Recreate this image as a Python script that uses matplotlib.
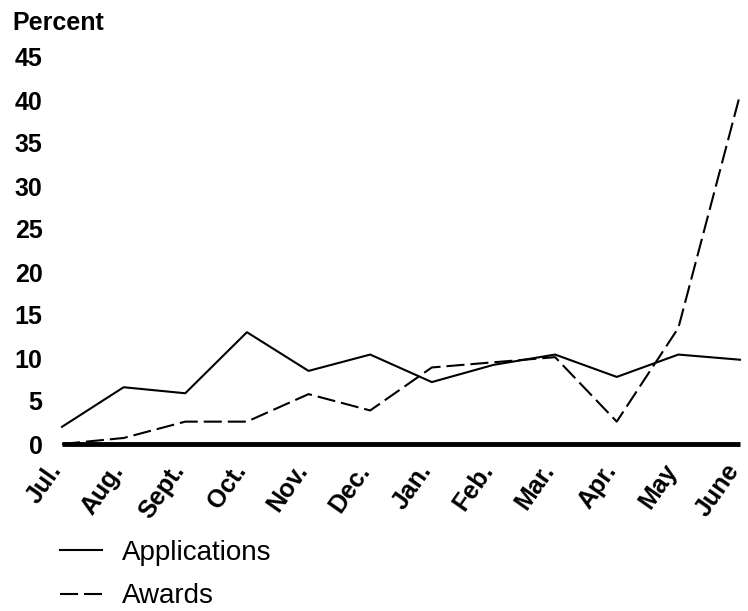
import matplotlib
matplotlib.use("Agg")
import matplotlib.pyplot as plt
from matplotlib.lines import Line2D
from matplotlib.transforms import ScaledTranslation

months = ["Jul.", "Aug.", "Sept.", "Oct.", "Nov.", "Dec.",
          "Jan.", "Feb.", "Mar.", "Apr.", "May", "June"]
applications = [2.0, 6.6, 5.9, 13.0, 8.5, 10.4, 7.2, 9.2, 10.4, 7.8, 10.4, 9.8]
awards = [0.0, 0.7, 2.6, 2.6, 5.8, 3.9, 8.9, 9.5, 10.1, 2.6, 13.5, 40.6]
y_ticks = [0, 5, 10, 15, 20, 25, 30, 35, 40, 45]

plt.rcParams['lines.scale_dashes'] = False
font = ['Liberation Sans', 'DejaVu Sans']
dash = (13, 4.3)

fig = plt.figure(figsize=(7.48, 6.11), dpi=100)
ax = fig.add_axes([62 / 748, 1 - 444 / 611, (740 - 62) / 748, (444 - 57) / 611])

x = list(range(len(months)))
ax.plot(x, applications, color='black', lw=1.5, clip_on=False)
ax.plot(x, awards, color='black', lw=1.5, dashes=dash, clip_on=False)

ax.set_xlim(0, len(months) - 1)
ax.set_ylim(0, 45)
for s in ['top', 'right', 'left']:
    ax.spines[s].set_visible(False)
ax.spines['bottom'].set_linewidth(3.5)
ax.spines['bottom'].set_capstyle('butt')
ax.tick_params(length=0)

ax.set_yticks(y_ticks)
ax.set_yticklabels([str(v) for v in y_ticks], family=font, weight='bold',
                   fontsize=18, ha='right')
ax.tick_params(axis='y', pad=14)

ax.set_xticks(x)
ax.set_xticklabels(months, family=font, weight='bold', fontsize=18,
                   rotation=55, ha='right', va='center', rotation_mode='anchor')
ax.tick_params(axis='x', pad=16)
# nudge the month labels a little left so "June" stays inside the figure
shift = ScaledTranslation(-4 / 72, 0, fig.dpi_scale_trans)
for lbl in ax.get_xticklabels():
    lbl.set_transform(lbl.get_transform() + shift)

fig.text(12 / 748, 1 - 30 / 611, "Percent", family=font, weight='bold',
         fontsize=18, ha='left', va='baseline')

handles = [Line2D([], [], color='black', lw=1.5),
           Line2D([], [], color='black', lw=1.5, dashes=dash)]
fig.legend(handles, ["Applications", "Awards"], loc='upper left',
           bbox_to_anchor=(60 / 748, 1 - 540 / 611), frameon=False,
           borderpad=0, borderaxespad=0,
           prop={'family': font, 'size': 20}, handlelength=1.5,
           handletextpad=0.72, labelspacing=0.62)

fig.savefig("out.png", dpi=100)
